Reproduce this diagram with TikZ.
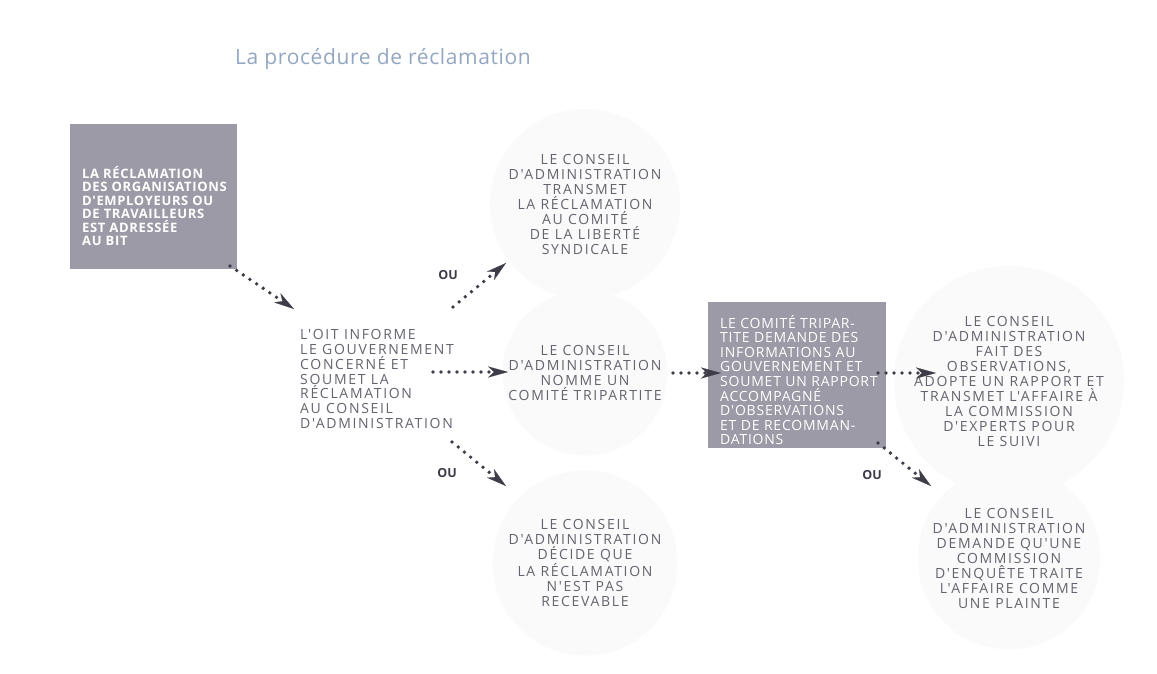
\documentclass[tikz,border=0pt]{standalone}
\usepackage{fontspec}
\setmainfont{Open Sans}
\newfontfamily\widefont[LetterSpace=12]{Open Sans}
\newfontfamily\boxfont[LetterSpace=5.5]{Open Sans}
\newfontfamily\boldwide[LetterSpace=5]{Open Sans}
\newfontfamily\titlefont[LetterSpace=3]{Open Sans}
\usetikzlibrary{arrows.meta}
\definecolor{txt}{HTML}{65636E}
\definecolor{boxc}{HTML}{9C9AA6}
\definecolor{arr}{HTML}{3E3C47}
\definecolor{ttl}{HTML}{94A7C2}
\definecolor{halo}{HTML}{FAFAFA}
\tikzset{
  bubble/.style={circle, fill=halo, minimum size=#1, inner sep=0pt, align=center, text=txt,
    font=\widefont\fontsize{14}{15}\selectfont},
  bubble/.default=185pt,
  plaintext/.style={align=left, text=txt, inner sep=0pt, font=\widefont\fontsize{14}{14.7}\selectfont},
  darkbox/.style={rectangle, fill=boxc, inner sep=0pt},
  whitetext/.style={align=left, text=white, inner sep=0pt},
  oulabel/.style={text=arr, inner sep=0pt, font=\bfseries\fontsize{12.5}{14}\selectfont},
  dotarrow/.style={draw=arr, line width=3.8pt, line cap=round, dash pattern=on 0pt off 8pt,
    -{Stealth[length=20pt,width=11pt,inset=6pt,line width=0.1pt,fill=arr]}},
  titletext/.style={text=ttl, inner sep=0pt, font=\titlefont\fontsize{21}{25}\selectfont}
}
\begin{document}
\begin{tikzpicture}[x=1pt,y=-1pt]
\useasboundingbox[fill=white] (0,0) rectangle (1157,674);
% faint circles with texts
\node[bubble=190pt] (c1) at (585,204) {LE CONSEIL\\D'ADMINISTRATION\\TRANSMET\\LA RÉCLAMATION\\AU COMITÉ\\DE LA LIBERTÉ\\SYNDICALE};
\node[bubble=165pt] (c2) at (585,373) {LE CONSEIL\\D'ADMINISTRATION\\NOMME UN\\COMITÉ TRIPARTITE};
\node[bubble=185pt] (c3) at (585,563) {LE CONSEIL\\D'ADMINISTRATION\\DÉCIDE QUE\\LA RÉCLAMATION\\N'EST PAS\\RECEVABLE};
\node[bubble=195pt] (c4) at (1009,381) {LE CONSEIL\\D'ADMINISTRATION\\FAIT DES\\OBSERVATIONS,\\ADOPTE UN RAPPORT ET\\TRANSMET L'AFFAIRE À\\LA COMMISSION\\D'EXPERTS POUR\\LE SUIVI};
\node[bubble=180pt] (c5) at (1009,558) {LE CONSEIL\\D'ADMINISTRATION\\DEMANDE QU'UNE\\COMMISSION\\D'ENQUÊTE TRAITE\\L'AFFAIRE COMME\\UNE PLAINTE};
% title
\node[titletext, anchor=base west] (title) at (235,65) {La procédure de réclamation};
% box 1
\node[darkbox, minimum width=167pt, minimum height=145pt, anchor=north west] (b1) at (70,124) {};
\node[whitetext, anchor=west, font=\boldwide\bfseries\fontsize{13}{13.5}\selectfont] (b1t) at (82,206)
  {LA RÉCLAMATION\\DES ORGANISATIONS\\D'EMPLOYEURS OU\\DE TRAVAILLEURS\\EST ADRESSÉE\\AU BIT};
% OIT text
\node[plaintext, anchor=west] (oit) at (300,379) {L'OIT INFORME\\LE GOUVERNEMENT\\CONCERNÉ ET\\SOUMET LA\\RÉCLAMATION\\AU CONSEIL\\D'ADMINISTRATION};
% box 2
\node[darkbox, minimum width=178pt, minimum height=146pt, anchor=north west] (b2) at (708,302) {};
\node[whitetext, anchor=west, font=\boxfont\fontsize{14}{14.6}\selectfont] (b2t) at (720,380)
  {LE COMITÉ TRIPAR-\\TITE DEMANDE DES\\INFORMATIONS AU\\GOUVERNEMENT ET\\SOUMET UN RAPPORT\\ACCOMPAGNÉ\\D'OBSERVATIONS\\ET DE RECOMMAN-\\DATIONS};
% OU labels
\node[oulabel] (ou1) at (448,275) {OU};
\node[oulabel] (ou2) at (447,473) {OU};
\node[oulabel] (ou3) at (872,475) {OU};
% connector ends
\coordinate (a1s) at (230,266); \coordinate (a1e) at (294,309);
\coordinate (a2s) at (453,307); \coordinate (a2e) at (506,263);
\coordinate (a3s) at (433,372); \coordinate (a3e) at (508,372);
\coordinate (a4s) at (452,442); \coordinate (a4e) at (506,486);
\coordinate (a5s) at (673,373); \coordinate (a5e) at (721,373);
\coordinate (a6s) at (878,373); \coordinate (a6e) at (936,373);
\coordinate (a7s) at (878,443); \coordinate (a7e) at (931,486);
\draw[dotarrow] (a1s) -- (a1e);
\draw[dotarrow] (a2s) -- (a2e);
\draw[dotarrow] (a3s) -- (a3e);
\draw[dotarrow] (a4s) -- (a4e);
\draw[dotarrow] (a5s) -- (a5e);
\draw[dotarrow] (a6s) -- (a6e);
\draw[dotarrow] (a7s) -- (a7e);
\end{tikzpicture}
\end{document}
